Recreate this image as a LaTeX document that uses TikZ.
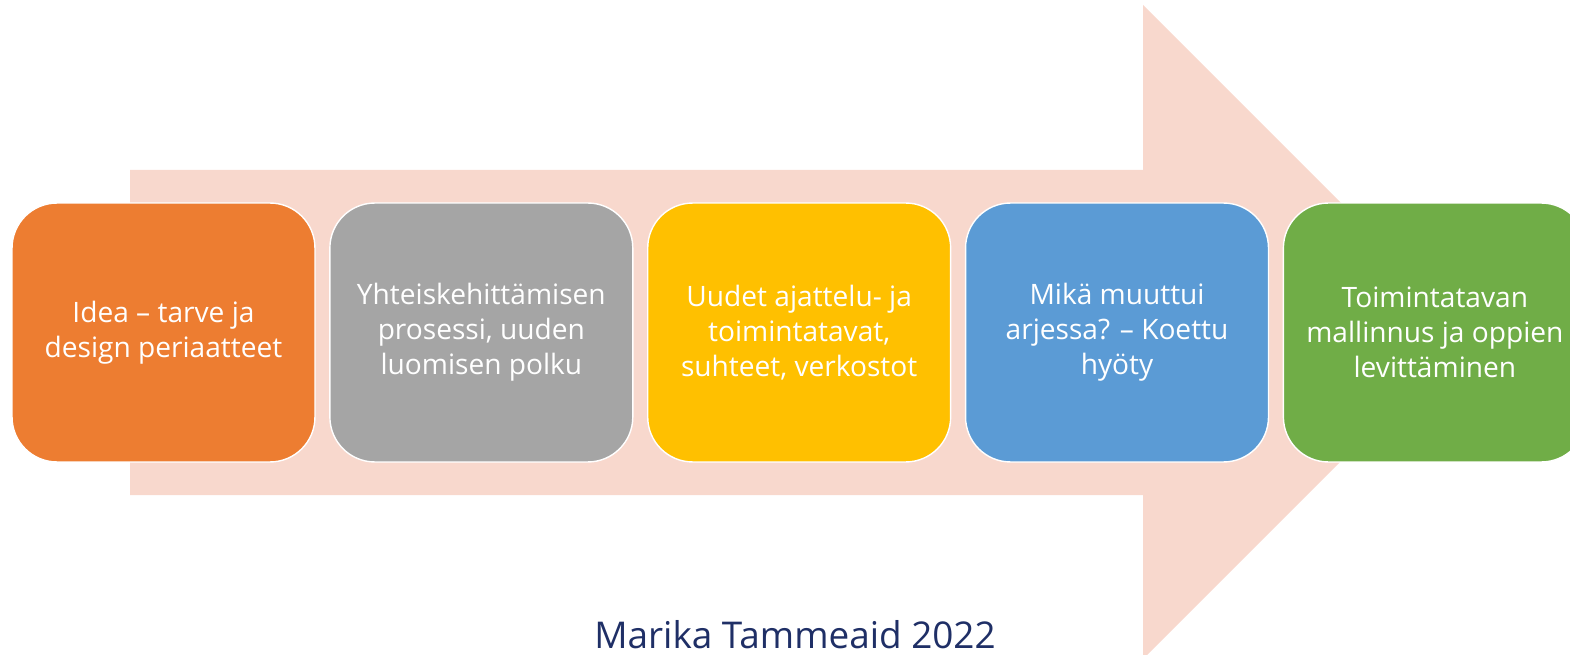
\documentclass[tikz,border=0pt]{standalone}
\usepackage{fontspec}
\setmainfont{Open Sans}
\usetikzlibrary{positioning}
\definecolor{oranssi}{HTML}{ED7D31}
\definecolor{harmaa}{HTML}{A5A5A5}
\definecolor{keltainen}{HTML}{FFC000}
\definecolor{sininen}{HTML}{5B9BD5}
\definecolor{vihrea}{HTML}{70AD47}
\definecolor{lohi}{HTML}{F8D8CD}
\definecolor{tummansininen}{HTML}{1F2F66}
\tikzset{vaihe/.style={rectangle,rounded corners=0.9cm,draw=white,line width=0.8pt,
           fill=#1,minimum width=6.06cm,minimum height=5.18cm,inner sep=0,
           align=center,text=white,font=\fontsize{16}{19.9}\selectfont},
         nimi/.style={font=\fontsize{21}{25}\selectfont\color{tummansininen}}}

\begin{document}
\begin{tikzpicture}[x=0.02cm,y=-0.02cm,node distance=0.27cm]
  \useasboundingbox (0,0) rectangle (1570,655);
  % iso nuoli taustalla
  \fill[lohi] (130,170) -- (1143,170) -- (1143,5) -- (1470,332) -- (1143,659)
              -- (1143,495) -- (130,495) -- cycle;
  \node[vaihe=oranssi] (v1) at (163.5,332.5) {Idea – tarve ja\\design periaatteet};
  \node[vaihe=harmaa,right=of v1] (v2) {Yhteiskehittämisen\\prosessi, uuden\\luomisen polku};
  \node[vaihe=keltainen,right=of v2] (v3) {Uudet ajattelu- ja\\toimintatavat,\\suhteet, verkostot};
  \node[vaihe=sininen,right=of v3] (v4) {Mikä muuttui\\arjessa? – Koettu\\hyöty};
  \node[vaihe=vihrea,right=of v4] (v5) {Toimintatavan\\mallinnus ja oppien\\levittäminen};
  \node[nimi,anchor=base] (tekija) at (795,648) {Marika Tammeaid 2022};
\end{tikzpicture}
\end{document}
